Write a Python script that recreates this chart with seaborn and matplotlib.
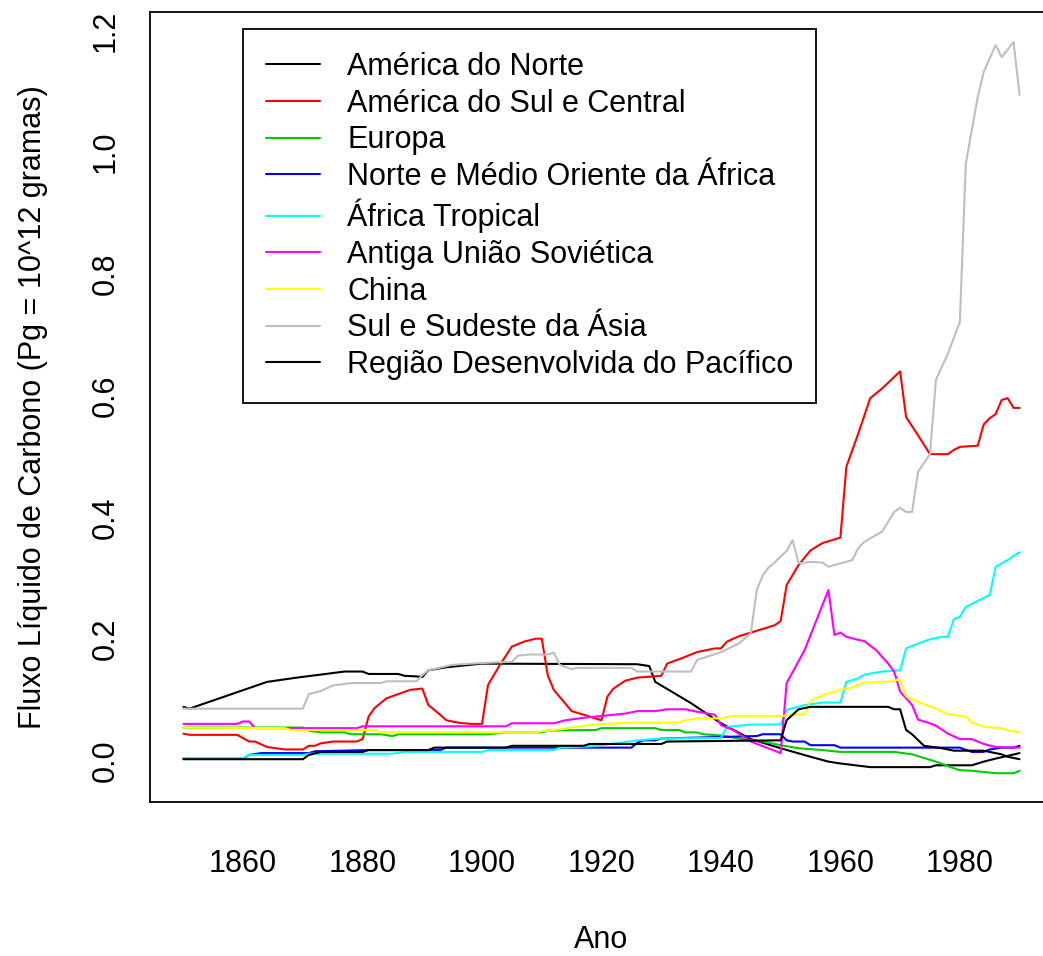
import matplotlib
matplotlib.use("Agg")
import matplotlib.pyplot as plt
import seaborn as sns
import numpy as np

# ---- data ----
labels = ["América do Norte", "América do Sul e Central", "Europa",
          "Norte e Médio Oriente da África", "África Tropical",
          "Antiga União Soviética", "China", "Sul e Sudeste da Ásia",
          "Região Desenvolvida do Pacífico"]
colors = ["#000000", "#FF0000", "#00CD00", "#0000FF", "#00FFFF",
          "#FF00FF", "#FFFF00", "#BEBEBE", "#000000"]

an_years = [1850, 1851, 1864, 1869, 1877, 1880, 1881, 1886, 1887, 1889, 1890, 1891, 1894, 1900,
            1926, 1928, 1929, 1935, 1940, 1945, 1950, 1955, 1958, 1960, 1965, 1975, 1976, 1982,
            1984, 1986, 1990]
an_vals = [0.089, 0.086, 0.130, 0.137, 0.147, 0.147, 0.143, 0.143, 0.140, 0.139, 0.138, 0.149, 0.154, 0.160,
           0.159, 0.156, 0.130, 0.095, 0.062, 0.036, 0.021, 0.007, -0.001, -0.004, -0.010, -0.010, -0.007, -0.007,
           -0.001, 0.004, 0.013]

sa_years = [1850, 1851, 1859, 1861, 1862, 1864, 1867, 1870, 1871, 1872, 1873, 1875, 1879, 1880, 1881,
            1882, 1884, 1886, 1888, 1890, 1891, 1893, 1894, 1896, 1898, 1900, 1901, 1903, 1905, 1907,
            1909, 1910, 1911, 1912, 1915, 1917, 1920, 1921, 1922, 1924, 1926, 1930, 1931, 1934, 1936,
            1939, 1940, 1941, 1943, 1946, 1949, 1950, 1951, 1953, 1955, 1957, 1960, 1961, 1963, 1965,
            1967, 1970, 1971, 1973, 1975, 1978, 1979, 1980, 1983, 1984, 1985, 1986, 1987, 1988, 1989, 1990]
sa_vals = [0.045, 0.043, 0.043, 0.032, 0.032, 0.023, 0.019, 0.019, 0.025, 0.025, 0.029, 0.032, 0.032, 0.036, 0.073,
           0.087, 0.103, 0.110, 0.117, 0.119, 0.092, 0.076, 0.067, 0.063, 0.061, 0.061, 0.125, 0.158, 0.188, 0.196,
           0.201, 0.201, 0.141, 0.117, 0.082, 0.076, 0.067, 0.106, 0.119, 0.132, 0.137, 0.140, 0.160, 0.171, 0.179,
           0.185, 0.185, 0.196, 0.205, 0.214, 0.223, 0.230, 0.289, 0.322, 0.346, 0.358, 0.367, 0.483, 0.538, 0.596,
           0.612, 0.640, 0.565, 0.535, 0.504, 0.504, 0.511, 0.516, 0.518, 0.553, 0.563, 0.570, 0.593, 0.596, 0.580, 0.580]

eu_years = [1850, 1870, 1871, 1873, 1877, 1878, 1883, 1885, 1886, 1901, 1904, 1910, 1911, 1919, 1920,
            1929, 1930, 1933, 1934, 1936, 1937, 1940, 1943, 1947, 1950, 1953, 1957, 1960, 1969, 1972,
            1976, 1979, 1980, 1982, 1986, 1989, 1990]
eu_vals = [0.055, 0.055, 0.050, 0.047, 0.047, 0.044, 0.044, 0.041, 0.044, 0.044, 0.047, 0.047, 0.050, 0.051, 0.054,
           0.054, 0.051, 0.051, 0.047, 0.047, 0.044, 0.042, 0.037, 0.032, 0.026, 0.021, 0.018, 0.015, 0.015, 0.011,
           -0.001, -0.012, -0.015, -0.016, -0.020, -0.020, -0.016]

nm_years = [1850, 1860, 1861, 1863, 1871, 1872, 1881, 1893, 1894, 1925, 1926, 1927, 1929, 1930, 1946,
            1947, 1950, 1951, 1952, 1954, 1955, 1959, 1960, 1980, 1982, 1984, 1985, 1987, 1989, 1990]
nm_vals = [0.004, 0.004, 0.010, 0.013, 0.013, 0.016, 0.018, 0.018, 0.022, 0.022, 0.030, 0.034, 0.034, 0.037, 0.041,
           0.044, 0.044, 0.034, 0.032, 0.032, 0.026, 0.026, 0.022, 0.022, 0.015, 0.015, 0.019, 0.022, 0.022, 0.025]

at_years = [1850, 1860, 1861, 1870, 1871, 1885, 1887, 1900, 1901, 1912, 1913, 1918, 1923, 1926, 1930,
            1940, 1941, 1945, 1950, 1951, 1954, 1957, 1960, 1961, 1963, 1964, 1967, 1970, 1971, 1973,
            1975, 1977, 1978, 1979, 1980, 1981, 1983, 1985, 1986, 1988, 1989, 1990]
at_vals = [0.005, 0.005, 0.010, 0.010, 0.012, 0.012, 0.015, 0.015, 0.018, 0.018, 0.022, 0.024, 0.030, 0.034, 0.037,
           0.038, 0.056, 0.060, 0.060, 0.084, 0.092, 0.096, 0.096, 0.130, 0.136, 0.142, 0.147, 0.149, 0.185, 0.193,
           0.200, 0.204, 0.204, 0.233, 0.237, 0.253, 0.263, 0.273, 0.319, 0.330, 0.337, 0.343]

us_years = [1850, 1859, 1860, 1861, 1862, 1879, 1880, 1904, 1905, 1912, 1914, 1917, 1920, 1921, 1924,
            1926, 1929, 1931, 1934, 1936, 1939, 1940, 1942, 1945, 1950, 1951, 1954, 1958, 1959, 1960,
            1961, 1963, 1964, 1966, 1968, 1969, 1970, 1972, 1973, 1975, 1976, 1978, 1980, 1982, 1984,
            1986, 1990]
us_vals = [0.061, 0.061, 0.065, 0.065, 0.054, 0.054, 0.057, 0.057, 0.062, 0.062, 0.067, 0.071, 0.074, 0.075, 0.078,
           0.082, 0.082, 0.085, 0.085, 0.081, 0.076, 0.059, 0.051, 0.032, 0.013, 0.128, 0.182, 0.281, 0.207, 0.211,
           0.204, 0.199, 0.197, 0.182, 0.160, 0.147, 0.114, 0.092, 0.068, 0.062, 0.058, 0.045, 0.036, 0.036, 0.028,
           0.023, 0.022]

cn_years = [1850, 1867, 1868, 1882, 1883, 1909, 1910, 1913, 1915, 1918, 1919, 1925, 1933, 1934, 1936,
            1940, 1942, 1950, 1951, 1954, 1955, 1957, 1960, 1962, 1964, 1968, 1970, 1971, 1973, 1976,
            1978, 1981, 1982, 1984, 1987, 1988, 1990]
cn_vals = [0.055, 0.054, 0.051, 0.051, 0.047, 0.047, 0.049, 0.052, 0.055, 0.059, 0.060, 0.063, 0.063, 0.067, 0.070,
           0.070, 0.074, 0.074, 0.075, 0.077, 0.099, 0.108, 0.117, 0.121, 0.129, 0.130, 0.134, 0.106, 0.097, 0.086,
           0.077, 0.073, 0.063, 0.056, 0.054, 0.050, 0.047]

sa2_years = [1850, 1870, 1871, 1873, 1875, 1878, 1883, 1884, 1889, 1890, 1891, 1895, 1900, 1905, 1906,
             1908, 1911, 1912, 1913, 1915, 1916, 1925, 1926, 1935, 1936, 1940, 1943, 1945, 1946, 1947,
             1948, 1949, 1950, 1951, 1952, 1953, 1955, 1957, 1958, 1959, 1962, 1963, 1964, 1967, 1969,
             1970, 1971, 1972, 1973, 1975, 1976, 1978, 1980, 1981, 1983, 1984, 1986, 1987, 1989, 1990]
sa2_vals = [0.086, 0.086, 0.110, 0.115, 0.124, 0.128, 0.128, 0.131, 0.131, 0.141, 0.149, 0.158, 0.161, 0.163, 0.173,
            0.175, 0.175, 0.178, 0.158, 0.151, 0.153, 0.153, 0.147, 0.147, 0.166, 0.179, 0.193, 0.210, 0.281, 0.305,
            0.318, 0.326, 0.336, 0.345, 0.363, 0.325, 0.327, 0.326, 0.319, 0.322, 0.330, 0.350, 0.360, 0.377, 0.409,
            0.416, 0.409, 0.409, 0.475, 0.504, 0.626, 0.669, 0.721, 0.981, 1.091, 1.132, 1.176, 1.156, 1.181, 1.094]

pc_years = [1850, 1870, 1871, 1873, 1880, 1881, 1891, 1892, 1904, 1905, 1917, 1918, 1930, 1931, 1950,
            1951, 1953, 1955, 1968, 1969, 1970, 1971, 1972, 1974, 1977, 1979, 1984, 1987, 1988, 1990]
pc_vals = [0.003, 0.003, 0.010, 0.015, 0.015, 0.018, 0.018, 0.022, 0.022, 0.025, 0.025, 0.028, 0.028, 0.032, 0.034,
           0.067, 0.085, 0.089, 0.089, 0.085, 0.085, 0.051, 0.044, 0.025, 0.021, 0.017, 0.017, 0.011, 0.007, 0.003]

series = [(an_years, an_vals), (sa_years, sa_vals), (eu_years, eu_vals), (nm_years, nm_vals),
          (at_years, at_vals), (us_years, us_vals), (cn_years, cn_vals), (sa2_years, sa2_vals),
          (pc_years, pc_vals)]

x_ticks = [1860, 1880, 1900, 1920, 1940, 1960, 1980]
y_ticks = [0.0, 0.2, 0.4, 0.6, 0.8, 1.0, 1.2]

# ---- plot ----
sns.set_theme(style="white")
plt.rcParams["font.family"] = ["Liberation Sans", "DejaVu Sans"]
plt.rcParams["text.color"] = "black"
plt.rcParams["axes.labelcolor"] = "black"
plt.rcParams["xtick.color"] = "black"
plt.rcParams["ytick.color"] = "black"
FS = 22

fig = plt.figure(figsize=(10.43, 9.56), dpi=100)
ax = fig.add_axes([150 / 1043, 1 - 802 / 956, 903 / 1043, 790 / 956])

for (xs, ys), lab, col in zip(series, labels, colors):
    sns.lineplot(x=xs, y=ys, color=col, label=lab, ax=ax, linewidth=1.5, estimator=None, sort=False)

ax.set_xlim(1844.4, 1995.6)
ax.set_ylim(-0.0673, 1.2303)
ax.set_xticks(x_ticks)
ax.set_xticklabels([str(v) for v in x_ticks], fontsize=FS)
ax.set_yticks(y_ticks)
ax.set_yticklabels([f"{v:.1f}" for v in y_ticks], fontsize=FS, rotation=90, va="center")
ax.tick_params(axis="x", direction="out", length=13, width=1.2, pad=21, colors="black")
ax.tick_params(axis="y", direction="out", length=13, width=1.2, pad=8, colors="black")
for s in ax.spines.values():
    s.set_color("black")
    s.set_linewidth(1.3)

ax.set_xlabel("Ano", fontsize=FS, color="black")
ax.set_ylabel("Fluxo Líquido de Carbono (Pg = 10^12 gramas)", fontsize=FS, color="black")
ax.xaxis.set_label_coords(0.5, -(925 - 802) / 790)
ax.yaxis.set_label_coords((48 - 150) / 903, 0.5)

leg = ax.legend(loc="upper left", bbox_to_anchor=((243 - 150) / 903, 1 - (29 - 12) / 790),
                borderaxespad=0, fontsize=FS, frameon=True, fancybox=False, shadow=False,
                handlelength=1.76, handletextpad=0.9, labelspacing=0.22, borderpad=0.75)
leg.get_frame().set_edgecolor("black")
leg.get_frame().set_linewidth(1.3)
leg.get_frame().set_alpha(1)
for t in leg.get_texts():
    t.set_color("black")
for h in leg.get_lines():
    h.set_linewidth(1.5)

fig.savefig("out.png", dpi=100)
